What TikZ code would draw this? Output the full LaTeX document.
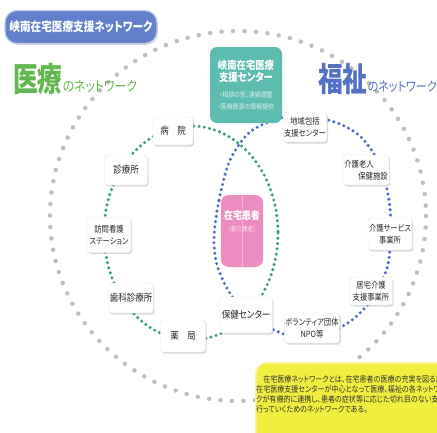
\documentclass[tikz,border=0pt]{standalone}
\usepackage{fontspec}
\setmainfont{Noto Sans CJK JP}[FakeStretch=0.85, RawFeature=+palt]
\newfontfamily\titlefont{Noto Sans CJK JP}[FakeStretch=0.75, RawFeature=+palt]
\usetikzlibrary{shadows}

\definecolor{iryogreen}{RGB}{98,183,80}
\definecolor{fukushiblue}{RGB}{84,112,196}
\definecolor{dotgreen}{RGB}{62,160,118}
\definecolor{dotblue}{RGB}{78,108,200}
\definecolor{dotgray}{RGB}{190,190,190}
\definecolor{bannerblue}{RGB}{98,128,204}
\definecolor{centerteal}{RGB}{92,188,176}
\definecolor{patientpink}{RGB}{236,140,192}
\definecolor{noteyellow}{RGB}{240,238,62}

\begin{document}
\begin{tikzpicture}
        [x=1pt, y=-1pt,
         place/.style={fill=white, draw=black!10, rounded corners=3pt, align=center,
                       inner sep=1pt, minimum width=43, minimum height=30, text=black!85,
                       drop shadow={opacity=0.3, shadow xshift=1.2pt, shadow yshift=-1.5pt},
                       font=\fontsize{10}{12}\selectfont},
         place2/.style={place, font=\fontsize{8.6}{11.5}\selectfont},
         ring/.style={line cap=round, line width=3.4pt, dash pattern=on 0pt off 5.3pt},
         bigring/.style={line cap=round, line width=4.5pt, dash pattern=on 0pt off 11.5pt, dotgray}]
        \useasboundingbox (0,0) rectangle (437,432);
        \clip (0,0) rectangle (437,432);
        \fill[white] (0,0) rectangle (437,432);

        \draw[bigring] (238,216) ellipse [x radius=188, y radius=185];
        \draw[ring, dotgreen] (191,233) ellipse [x radius=87, y radius=107];
        \draw[ring, dotblue] plot[smooth cycle] coordinates {(214,238) (219,200) (230,160)
            (250,132) (280,118) (310,116) (340,124) (362,138) (380,165) (389,200) (391,235)
            (387,268) (373,298) (352,320) (325,335) (297,338) (270,328) (245,312) (228,290)
            (217,265)};

        \node[fill=bannerblue, draw=white!60!bannerblue, line width=1.2pt, rounded corners=12pt,
              minimum width=152, minimum height=33, text=white,
              drop shadow={opacity=0.3, shadow xshift=1pt, shadow yshift=-1.5pt},
              font=\bfseries\fontsize{12.5}{12.5}\selectfont] (banner) at (81,27) {峡南在宅医療支援ネットワーク};

        \node[anchor=base west, inner sep=0, text=iryogreen] (iryo) at (13,91)
            {{\titlefont\bfseries\fontsize{33}{33}\selectfont 医療}{\fontsize{14}{14}\selectfont のネットワーク}};
        \node[anchor=base west, inner sep=0, text=fukushiblue] (fukushi) at (318,91)
            {{\titlefont\bfseries\fontsize{33}{33}\selectfont 福祉}{\fontsize{13}{13}\selectfont のネットワーク}};

        \node[fill=centerteal, rounded corners=7pt, minimum width=72, minimum height=76,
              text=white, align=center] (center) at (246,85)
            {\bfseries\fontsize{11}{15}\selectfont 峡南在宅医療\\
             \bfseries\fontsize{11}{15}\selectfont 支援センター\\[4pt]
             \color{white!80!centerteal}\fontsize{7}{10}\selectfont ・相談の窓、連絡調整\\
             \color{white!80!centerteal}\fontsize{7}{10}\selectfont ・医療資源の情報提供};

        \node[place, minimum width=40, minimum height=28] (byoin) at (173,131) {病　院};
        \node[place] (shinryo) at (126,170) {診療所};
        \node[place2, minimum width=44, minimum height=35] (houmon) at (109,235) {訪問看護\\ステーション};
        \node[place] (shika) at (131,298) {歯科診療所};
        \node[place, minimum width=45, minimum height=32] (yakkyoku) at (183,336) {薬　局};
        \node[place, minimum width=53, minimum height=36] (hoken) at (246,315) {保健センター};

        \node[place2] (chiiki) at (305,127) {地域包括\\支援センター};
        \node[place2, align=left, minimum width=46] (rojin) at (366,170) {介護老人\\\hspace{14pt}保健施設};
        \node[place2, minimum width=44, minimum height=32] (kaigo) at (390,234) {介護サービス\\事業所};
        \node[place2, minimum height=28] (kyotaku) at (371,291) {居宅介護\\支援事業所};
        \node[place2, minimum width=47] (volunteer) at (312,328) {ボランティア団体\\NPO等};

        \node[fill=patientpink, rounded corners=8pt, minimum width=40, minimum height=72,
              text=white, align=center] (patient) at (242,231)
            {\bfseries\fontsize{10.5}{12}\selectfont 在宅患者\\
             \color{white!75!patientpink}\fontsize{6.5}{8}\selectfont (要介護者)\\[8pt]};
        \draw[white, opacity=0.35] (patient.north) -- (patient.south);

        \node[fill=noteyellow, draw=white!55!noteyellow, line width=1.5pt, rounded corners=11pt,
              anchor=north west, minimum width=200, minimum height=90] (notebox) at (255,362) {};
        \node[anchor=north west, inner sep=0, align=left, text=black!80,
              font=\fontsize{8.3}{10}\selectfont] (note) at ([xshift=1pt, yshift=-13pt]notebox.north west)
            {　在宅医療ネットワークとは、在宅患者の医療の充実を図るため\\
             在宅医療支援センターが中心となって医療、福祉の各ネットワー\\
             クが有機的に連携し、患者の症状等に応じた切れ目のない支援を\\
             行っていくためのネットワークである。};
\end{tikzpicture}
\end{document}
